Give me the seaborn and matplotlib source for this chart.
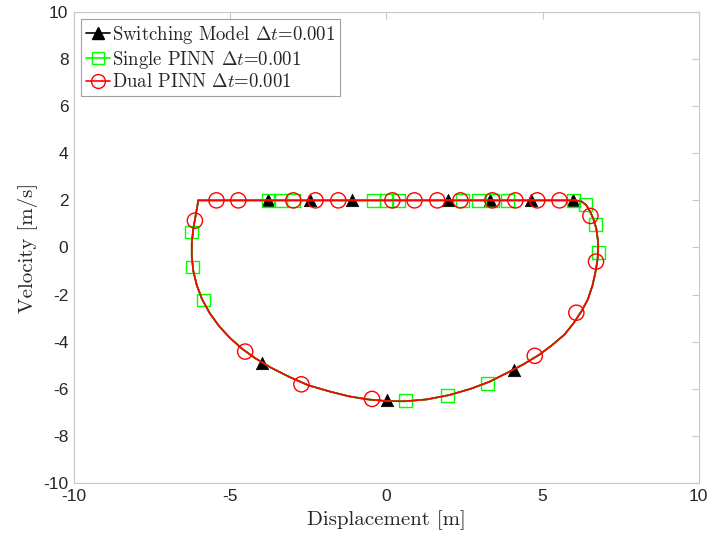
import pandas as pd
import matplotlib
matplotlib.use("Agg")
import matplotlib.pyplot as plt
from matplotlib.lines import Line2D
import seaborn as sns

# Trajectory (displacement, velocity)
curve_x = [-6.02, -3.0, 0.0, 3.0, 6.05, 6.25, 6.4, 6.53, 6.63, 6.72, 6.77, 6.78,
           6.76, 6.7, 6.6, 6.45, 6.25, 6.0, 5.7, 5.3, 4.9, 4.4, 3.9, 3.3, 2.7,
           2.0, 1.3, 0.6, 0.0, -0.6, -1.2, -1.8, -2.5, -3.1, -3.7, -4.2, -4.6,
           -5.0, -5.35, -5.65, -5.9, -6.07, -6.18, -6.23, -6.23, -6.18, -6.1, -6.02]
curve_v = [2.0, 2.0, 2.0, 2.0, 2.0, 1.95, 1.8, 1.5, 1.2, 0.8, 0.3, 0.0,
           -0.5, -1.0, -1.6, -2.2, -2.7, -3.2, -3.7, -4.15, -4.55, -4.95, -5.3, -5.7, -6.0,
           -6.27, -6.45, -6.53, -6.52, -6.45, -6.32, -6.12, -5.85, -5.5, -5.1, -4.7, -4.32,
           -3.85, -3.35, -2.8, -2.2, -1.6, -1.0, -0.4, 0.2, 0.8, 1.4, 2.0]

# Marker positions
switch_x = [-3.78, -2.44, -1.09, 1.96, 3.33, 4.62, 5.96, -3.97, 0.02, 4.1]
switch_v = [2.0, 2.0, 2.0, 2.0, 2.0, 2.0, 2.0, -4.9, -6.48, -5.2]

single_x = [-3.78, -3.39, -2.98, -0.42, 0.0, 0.38, 2.43, 2.94, 3.39, 3.87, 5.98, 6.37,
            6.69, 6.78, -6.24, -6.21, -5.86, 0.61, 1.96, 3.24]
single_v = [2.0, 2.0, 2.0, 2.0, 2.0, 2.0, 2.0, 2.0, 2.0, 2.0, 2.0, 1.82,
            0.96, -0.2, 0.66, -0.83, -2.23, -6.51, -6.29, -5.77]

dual_x = [-5.44, -4.74, -2.98, -2.27, -1.54, 0.19, 0.9, 1.63, 2.37, 3.39, 4.13, 4.83, 5.54,
          6.53, 6.71, 6.08, 4.75, -0.46, -2.72, -4.52, -6.13]
dual_v = [2.0, 2.0, 2.0, 2.0, 2.0, 2.0, 2.0, 2.0, 2.0, 2.0, 2.0, 2.0, 2.0,
          1.34, -0.6, -2.77, -4.6, -6.43, -5.81, -4.42, 1.14]

series = [
    ("Switching Model $\\Delta t$=0.001", "black", "^", switch_x, switch_v),
    ("Single PINN $\\Delta t$=0.001", "#00ff00", "s", single_x, single_v),
    ("Dual PINN $\\Delta t$=0.001", "red", "o", dual_x, dual_v),
]

sns.set_style("white")
plt.rcParams.update({
    "mathtext.fontset": "cm",
    "axes.unicode_minus": False,
    "xtick.direction": "in",
    "ytick.direction": "in",
    "axes.edgecolor": "#c8c8c8",
    "xtick.color": "#c8c8c8",
    "ytick.color": "#c8c8c8",
    "xtick.labelcolor": "#262626",
    "ytick.labelcolor": "#262626",
})

fig = plt.figure(figsize=(7.08, 5.43), dpi=100)
ax = fig.add_axes([0.1045, 0.1105, 0.8825, 0.8675])

curve_df = pd.DataFrame({"x": curve_x, "v": curve_v})
handles = []
for i, (label, color, marker, mx, mv) in enumerate(series):
    sns.lineplot(data=curve_df, x="x", y="v", sort=False, estimator=None,
                 color=color, linewidth=1.2, ax=ax, zorder=2 + 2 * i)
    mdf = pd.DataFrame({"x": mx, "v": mv})
    if marker == "^":
        sns.scatterplot(data=mdf, x="x", y="v", marker="^", s=80, color="black",
                        edgecolor="black", linewidth=0.5, ax=ax, zorder=3 + 2 * i)
        h = Line2D([], [], color=color, marker="^", markersize=9, lw=1.2,
                   markerfacecolor="black", markeredgecolor="black")
    else:
        size = 85 if marker == "s" else 120
        sns.scatterplot(data=mdf, x="x", y="v", marker=marker, s=size,
                        facecolor="none", edgecolor=color, linewidth=1.0,
                        ax=ax, zorder=3 + 2 * i)
        h = Line2D([], [], color=color, marker=marker,
                   markersize=8 if marker == "s" else 10, lw=1.2,
                   markerfacecolor="none", markeredgecolor=color)
    handles.append((h, label))

ax.set_xlim(-10, 10)
ax.set_ylim(-10, 10)
ax.set_xticks([-10, -5, 0, 5, 10])
ax.set_yticks(range(-10, 11, 2))
ax.tick_params(axis="both", which="both", top=True, right=True, length=5,
               width=0.8, labelsize=12.5, pad=4)
for lbl in ax.get_xticklabels() + ax.get_yticklabels():
    lbl.set_family("Liberation Sans")
for sp in ax.spines.values():
    sp.set_linewidth(0.8)

ax.set_xlabel("Displacement [m]", family="cmr10", fontsize=15, labelpad=5)
ax.set_ylabel("Velocity [m/s]", family="cmr10", fontsize=15, labelpad=4)

leg = ax.legend([h for h, _ in handles], [l for _, l in handles],
                loc="upper left", bbox_to_anchor=(0.011, 0.985),
                prop={"family": "cmr10", "size": 13.5},
                handlelength=1.3, handletextpad=0.1, borderpad=0.25,
                labelspacing=0.15, borderaxespad=0, fancybox=False,
                framealpha=1, edgecolor="#a0a0a0")
leg.get_frame().set_linewidth(0.8)

fig.savefig("out.png", dpi=100, facecolor="white")
